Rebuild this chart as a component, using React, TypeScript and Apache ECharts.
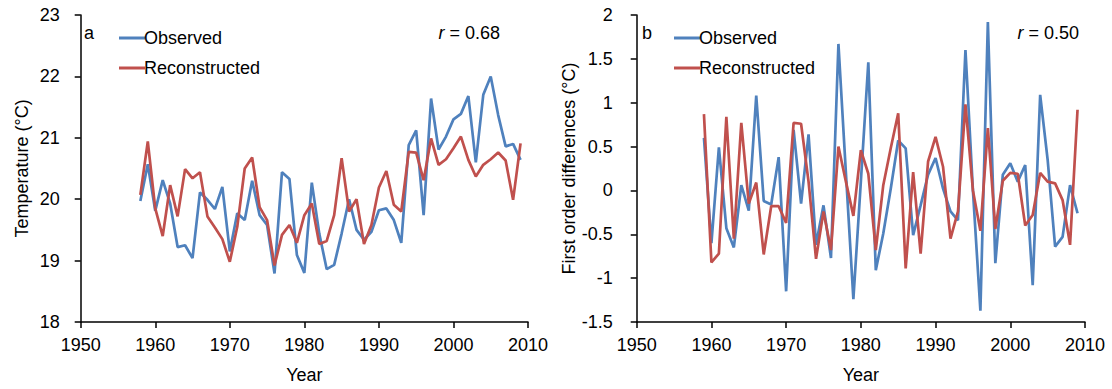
import React, { useEffect, useRef } from "react";
import * as echarts from "echarts";

const yearsA: number[] = [];
for (let y = 1958; y <= 2009; y++) yearsA.push(y);
const yearsB: number[] = [];
for (let y = 1959; y <= 2009; y++) yearsB.push(y);

const observedTemp = [
  19.97, 20.57, 19.81, 20.31, 19.93, 19.22, 19.25, 19.04, 20.11, 19.99,
  19.84, 20.2, 19.15, 19.77, 19.66, 20.3, 19.74, 19.58, 18.79, 20.44,
  20.33, 19.09, 18.8, 20.27, 19.44, 18.86, 18.93, 19.44, 20.0, 19.5,
  19.34, 19.47, 19.82, 19.85, 19.66, 19.29, 20.88, 21.12, 19.74, 21.64,
  20.81, 21.02, 21.3, 21.39, 21.68, 20.6, 21.7, 22.0, 21.37, 20.86,
  20.9, 20.64,
];
const reconstructedTemp = [
  20.07, 20.94, 19.85, 19.4, 20.23, 19.72, 20.49, 20.34, 20.44, 19.72,
  19.54, 19.35, 18.98, 19.55, 20.5, 20.68, 19.87, 19.66, 18.92, 19.42,
  19.58, 19.29, 19.74, 19.93, 19.27, 19.32, 19.74, 20.67, 19.8, 20.0,
  19.27, 19.58, 20.19, 20.46, 19.91, 19.8, 20.77, 20.76, 20.31, 20.99,
  20.56, 20.65, 20.83, 21.02, 20.64, 20.37, 20.56, 20.65, 20.76, 20.63,
  19.99, 20.91,
];
const observedDiff = [
  0.6, -0.6, 0.49, -0.43, -0.65, 0.06, -0.23, 1.08, -0.12, -0.16,
  0.38, -1.15, 0.69, -0.15, 0.64, -0.62, -0.17, -0.77, 1.67, 0.2,
  -1.24, 0.1, 1.46, -0.91, -0.49, 0.02, 0.57, 0.48, -0.51, -0.17,
  0.18, 0.37, 0.02, -0.24, -0.34, 1.6, 0.0, -1.37, 1.92, -0.83,
  0.18, 0.31, 0.1, 0.29, -1.08, 1.09, 0.35, -0.64, -0.53, 0.06,
  -0.26,
];
const reconstructedDiff = [
  0.87, -0.82, -0.72, 0.84, -0.55, 0.77, -0.15, 0.09, -0.73, -0.18,
  -0.18, -0.37, 0.77, 0.76, 0.1, -0.78, -0.24, -0.68, 0.5, 0.1,
  -0.29, 0.46, 0.19, -0.68, 0.06, 0.48, 0.88, -0.89, 0.21, -0.72,
  0.33, 0.61, 0.27, -0.55, -0.24, 0.98, 0.0, -0.46, 0.71, -0.44,
  0.11, 0.2, 0.19, -0.4, -0.28, 0.2, 0.1, 0.08, -0.11, -0.62,
  0.92,
];

const xTicks = [1950, 1960, 1970, 1980, 1990, 2000, 2010];

const BLUE = "#4F81BD";
const RED = "#C0504D";
const FONT = "'Liberation Sans', Arial, sans-serif";

const pair = (xs: number[], ys: number[]) => xs.map((x, i) => [x, ys[i]]);

export default function App() {
  const ref = useRef<HTMLDivElement>(null);
  useEffect(() => {
    document.body.style.margin = "0";
    const chart = echarts.init(ref.current!, null, { renderer: "svg" });
    const axisLine = { show: true, onZero: false, lineStyle: { color: "#000", width: 1.5 } };
    const axisTick = { show: true, inside: false, length: 6, lineStyle: { color: "#000", width: 1.5 } };
    const labelStyle = { color: "#000", fontSize: 18, fontFamily: FONT };
    const xAxis = (gridIndex: number) => ({
      type: "value",
      gridIndex,
      min: xTicks[0],
      max: xTicks[xTicks.length - 1],
      interval: 10,
      axisLine,
      axisTick,
      splitLine: { show: false },
      axisLabel: { ...labelStyle, margin: 14, formatter: (v: number) => String(v) },
      name: "Year",
      nameLocation: "middle",
      nameGap: 44,
      nameTextStyle: { ...labelStyle },
    });
    const lineSeries = (name: string, color: string, data: number[][], idx: number) => ({
      type: "line",
      name,
      xAxisIndex: idx,
      yAxisIndex: idx,
      data,
      symbol: "none",
      showSymbol: false,
      lineStyle: { color, width: 2.7 },
      itemStyle: { color },
    });
    const legend = (left: number) => ({
      left,
      top: 24,
      orient: "vertical",
      icon: "rect",
      itemWidth: 26,
      itemHeight: 3,
      itemGap: 12,
      textStyle: { ...labelStyle, padding: [0, 0, 0, -6] },
      data: ["Observed", "Reconstructed"],
    });
    const rText = (right: number, value: string) => ({
      type: "text",
      right,
      top: 24,
      style: {
        text: `{i|r} = ${value}`,
        fill: "#000",
        font: `18px ${FONT}`,
        rich: { i: { fontStyle: "italic", fontSize: 18, fontFamily: FONT, fill: "#000" } },
      },
    });
    chart.setOption({
      animation: false,
      backgroundColor: "#fff",
      grid: [
        { left: 80.7, right: 584, top: 15, bottom: 67 },
        { left: 636.7, right: 27, top: 15, bottom: 67 },
      ],
      xAxis: [xAxis(0), xAxis(1)],
      yAxis: [
        {
          type: "value",
          gridIndex: 0,
          min: 18,
          max: 23,
          interval: 1,
          axisLine,
          axisTick,
          splitLine: { show: false },
          axisLabel: { ...labelStyle, margin: 21 },
          name: "Temperature (°C)",
          nameLocation: "middle",
          nameGap: 50,
          nameTextStyle: { ...labelStyle },
        },
        {
          type: "value",
          gridIndex: 1,
          min: -1.5,
          max: 2,
          interval: 0.5,
          axisLine,
          axisTick,
          splitLine: { show: false },
          axisLabel: { ...labelStyle, margin: 24 },
          name: "First order differences (°C)",
          nameLocation: "middle",
          nameGap: 55,
          nameTextStyle: { ...labelStyle },
        },
      ],
      legend: [legend(114), legend(669)],
      series: [
        lineSeries("Observed", BLUE, pair(yearsA, observedTemp), 0),
        lineSeries("Reconstructed", RED, pair(yearsA, reconstructedTemp), 0),
        lineSeries("Observed", BLUE, pair(yearsB, observedDiff), 1),
        lineSeries("Reconstructed", RED, pair(yearsB, reconstructedDiff), 1),
      ],
      graphic: [
        { type: "text", left: 84, top: 24, style: { text: "a", fill: "#000", font: `18px ${FONT}` } },
        { type: "text", left: 642, top: 24, style: { text: "b", fill: "#000", font: `18px ${FONT}` } },
        rText(612, "0.68"),
        rText(33, "0.50"),
      ],
    });
    return () => chart.dispose();
  }, []);
  return <div ref={ref} style={{ position: "absolute", left: 0, top: 0, width: 1112, height: 389 }} />;
}
